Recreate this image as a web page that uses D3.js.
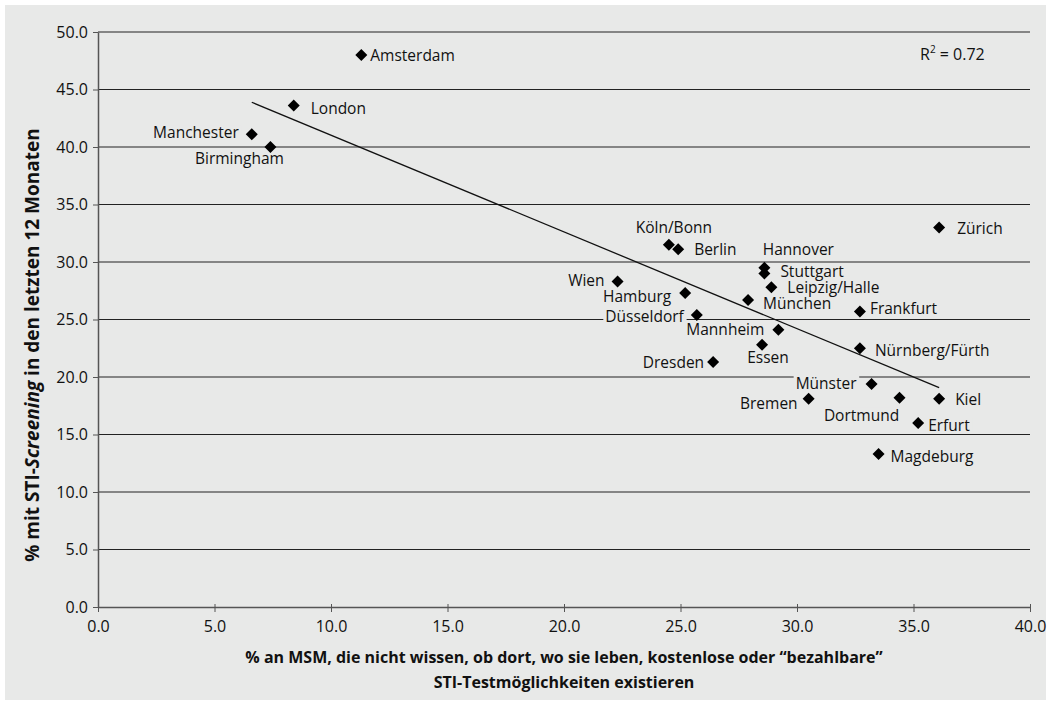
<!DOCTYPE html>
<html>
<head>
<meta charset="utf-8">
<script src="https://cdn.jsdelivr.net/npm/d3@7"></script>
<style>
  body { margin: 0; background: #fff; }
  text { font-family: "Open Sans", "Noto Sans", sans-serif; }
</style>
</head>
<body>
<div id="chart"></div>
<script>
// city names, x = % not knowing about free/affordable testing, y = % screened in last 12 months
var cities = ['Amsterdam', 'London', 'Manchester', 'Birmingham', 'Zürich', 'Köln/Bonn', 'Berlin',
    'Hannover', 'Stuttgart', 'Leipzig/Halle', 'Wien', 'Hamburg', 'München', 'Frankfurt', 'Düsseldorf',
    'Mannheim', 'Essen', 'Nürnberg/Fürth', 'Dresden', 'Münster', 'Bremen', 'Dortmund', 'Kiel', 'Erfurt', 'Magdeburg']
var xValues = [11.3, 8.4, 6.6, 7.4, 36.1, 24.5, 24.9,
    28.6, 28.6, 28.9, 22.3, 25.2, 27.9, 32.7, 25.7,
    29.2, 28.5, 32.7, 26.4, 33.2, 30.5, 34.4, 36.1, 35.2, 33.5]
var yValues = [48.0, 43.6, 41.1, 40.0, 33.0, 31.5, 31.1,
    29.5, 29.0, 27.8, 28.3, 27.3, 26.7, 25.7, 25.4,
    24.1, 22.8, 22.5, 21.3, 19.4, 18.1, 18.2, 18.1, 16.0, 13.3]
// label placement: [dx, dy, anchor]
var labelPos = [[9, 6, 'start'], [17, 8, 'start'], [-13, 4, 'end'], [-31, 17, 'middle'], [18, 6, 'start'],
    [5, -12, 'middle'], [16, 6, 'start'], [34, -13, 'middle'], [16, 3, 'start'], [16, 6, 'start'],
    [-13, 4, 'end'], [-14, 9, 'end'], [15, 9, 'start'], [10, 3, 'start'], [-13, 7, 'end'],
    [-14, 5, 'end'], [6, 18, 'middle'], [15, 8, 'start'], [-9, 6, 'end'], [-15, 5, 'end'],
    [-11, 10, 'end'], [-38, 23, 'middle'], [16, 6, 'start'], [10, 8, 'start'], [12, 8, 'start']]

var xTicks = [0, 5, 10, 15, 20, 25, 30, 35, 40]
var yTicks = [0, 5, 10, 15, 20, 25, 30, 35, 40, 45, 50]
var rSquared = '0.72'

var width = 1049, height = 701
var bg = '#e8e9e8'

var svg = d3.select('#chart').append('svg')
    .attr('width', width)
    .attr('height', height)

svg.append('rect')
    .attr('x', 5).attr('y', 5)
    .attr('width', 1041).attr('height', 695)
    .attr('fill', bg)

var x = d3.scaleLinear().domain([0, 40]).range([98, 1030])
var y = d3.scaleLinear().domain([0, 50]).range([607, 32])

// gridlines
svg.append('g')
    .selectAll('line')
    .data(yTicks.filter(function(d) { return d > 0 }))
    .enter()
    .append('line')
    .attr('x1', x(0)).attr('x2', x(40))
    .attr('y1', function(d) { return y(d) }).attr('y2', function(d) { return y(d) })
    .attr('stroke', '#222')
    .attr('stroke-width', 1.2)

// y axis
var yAxis = svg.append('g')
    .attr('transform', 'translate(' + x(0) + ',0)')
    .call(d3.axisLeft(y).tickValues(yTicks).tickFormat(d3.format('.1f')).tickSize(5).tickSizeOuter(0))
yAxis.select('.domain').attr('stroke', '#555').attr('stroke-width', 1.5)
yAxis.selectAll('.tick line').attr('stroke', '#555')
yAxis.selectAll('.tick text')
    .attr('font-size', 16)
    .attr('fill', '#111')
    .attr('x', -10)
    .style('font-family', '"Open Sans", sans-serif')

// x axis
var xAxis = svg.append('g')
    .attr('transform', 'translate(0,' + y(0) + ')')
    .call(d3.axisBottom(x).tickValues(xTicks).tickFormat(d3.format('.1f')).tickSize(5).tickSizeOuter(0))
xAxis.select('.domain').attr('stroke', '#555').attr('stroke-width', 1.5)
xAxis.selectAll('.tick line').attr('stroke', '#555').attr('y1', -3)
xAxis.selectAll('.tick text')
    .attr('font-size', 16)
    .attr('fill', '#111')
    .attr('y', 14)
    .style('font-family', '"Open Sans", sans-serif')

var points = cities.map(function(c, i) {
    return { name: c, x: xValues[i], y: yValues[i], pos: labelPos[i] }
})

// trend line (least squares over the points)
var mx = d3.mean(xValues), my = d3.mean(yValues)
var sxy = d3.sum(points, function(d) { return (d.x - mx) * (d.y - my) })
var sxx = d3.sum(points, function(d) { return (d.x - mx) * (d.x - mx) })
var slope = sxy / sxx, icpt = my - slope * mx
var x0 = d3.min(xValues), x1 = d3.max(xValues)

// labels: backgrounds first, then texts
var bgLayer = svg.append('g')
var txtLayer = svg.append('g')
var texts = txtLayer.selectAll('text')
    .data(points)
    .enter()
    .append('text')
    .attr('x', function(d) { return x(d.x) + d.pos[0] })
    .attr('y', function(d) { return y(d.y) + d.pos[1] })
    .attr('text-anchor', function(d) { return d.pos[2] })
    .attr('font-size', 15.5)
    .attr('fill', '#111')
    .text(function(d) { return d.name })
texts.each(function() {
    var b = this.getBBox()
    bgLayer.append('rect')
        .attr('x', b.x - 2).attr('y', b.y + 4)
        .attr('width', b.width + 4).attr('height', b.height - 8)
        .attr('fill', bg)
})

svg.append('line')
    .attr('x1', x(x0)).attr('y1', y(icpt + slope * x0))
    .attr('x2', x(x1)).attr('y2', y(icpt + slope * x1))
    .attr('stroke', '#111')
    .attr('stroke-width', 1.3)

// diamonds
svg.append('g')
    .selectAll('path')
    .data(points)
    .enter()
    .append('path')
    .attr('transform', function(d) { return 'translate(' + x(d.x) + ',' + y(d.y) + ')' })
    .attr('d', 'M0,-6L6,0L0,6L-6,0Z')
    .attr('fill', '#000')

txtLayer.raise()

// R squared
var rt = svg.append('text')
    .attr('x', 920).attr('y', 60)
    .attr('font-size', 16)
    .attr('fill', '#111')
rt.append('tspan').text('R')
rt.append('tspan').attr('font-size', 10).attr('dy', -7).text('2')
rt.append('tspan').attr('dy', 7).text(' = ' + rSquared)

// axis titles
svg.append('text')
    .attr('transform', 'translate(39,' + 345 + ') rotate(-90)')
    .attr('text-anchor', 'middle')
    .attr('font-size', 19)
    .attr('font-weight', 'bold')
    .attr('fill', '#111')
    .call(function(t) {
        t.append('tspan').text('% mit STI-')
        t.append('tspan').attr('font-style', 'italic').text('Screening')
        t.append('tspan').text(' in den letzten 12 Monaten')
    })

var xTitle = ['% an MSM, die nicht wissen, ob dort, wo sie leben, kostenlose oder \u201Cbezahlbare\u201D',
    'STI-Testmöglichkeiten existieren']
svg.append('g')
    .selectAll('text')
    .data(xTitle)
    .enter()
    .append('text')
    .attr('x', 564)
    .attr('y', function(d, i) { return 663 + i * 25 })
    .attr('text-anchor', 'middle')
    .attr('font-size', 16)
    .attr('font-weight', 'bold')
    .attr('fill', '#111')
    .text(function(d) { return d })
</script>
</body>
</html>
